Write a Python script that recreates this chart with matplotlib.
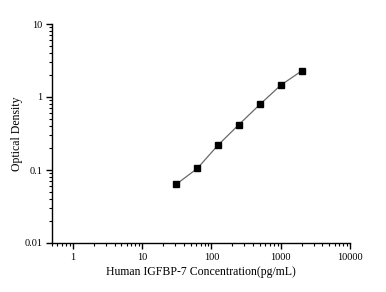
import matplotlib
matplotlib.use('Agg')
from matplotlib import pyplot as plt
from matplotlib.ticker import FixedLocator, LogLocator, NullFormatter, FixedFormatter
import numpy as np

matplotlib.rcParams['font.family'] = 'Liberation Serif'

conc = [31.25, 62.5, 125, 250, 500, 1000, 2000]
od = [0.064, 0.105, 0.22, 0.42, 0.79, 1.45, 2.27]

x_ticks = [1, 10, 100, 1000, 10000]
x_labels = ['1', '10', '100', '1000', '10000']
y_ticks = [0.01, 0.1, 1, 10]
y_labels = ['0.01', '0.1', '1', '10']

fig = plt.figure(figsize=(3.86, 2.92), dpi=100)
ax = fig.add_axes([52 / 386, 1 - 243 / 292, 298 / 386, 219 / 292])

ax.plot(conc, od, color='dimgrey', linewidth=0.9, zorder=1)
ax.plot(conc, od, 's', color='black', markersize=4, zorder=2)

ax.set_xscale('log')
ax.set_yscale('log')
ax.set_xlim(0.5, 10000)
ax.set_ylim(0.01, 10)

ax.xaxis.set_major_locator(FixedLocator(x_ticks))
ax.xaxis.set_major_formatter(FixedFormatter(x_labels))
ax.yaxis.set_major_locator(FixedLocator(y_ticks))
ax.yaxis.set_major_formatter(FixedFormatter(y_labels))
ax.xaxis.set_minor_locator(LogLocator(base=10, subs=np.arange(2, 10)))
ax.yaxis.set_minor_locator(LogLocator(base=10, subs=np.arange(2, 10)))
ax.xaxis.set_minor_formatter(NullFormatter())
ax.yaxis.set_minor_formatter(NullFormatter())

for s in ['top', 'right']:
    ax.spines[s].set_visible(False)
for s in ['left', 'bottom']:
    ax.spines[s].set_linewidth(1.0)

ax.tick_params(which='major', direction='out', length=4, width=1.0, labelsize=7.5, pad=3)
ax.tick_params(which='minor', direction='out', length=2, width=0.8)

ax.set_xlabel('Human IGFBP-7 Concentration(pg/mL)', fontsize=8.5, labelpad=3)
ax.set_ylabel('Optical Density', fontsize=8.5)
ax.yaxis.set_label_coords(-0.097, 0.5)

plt.savefig('out.png', dpi=100)
